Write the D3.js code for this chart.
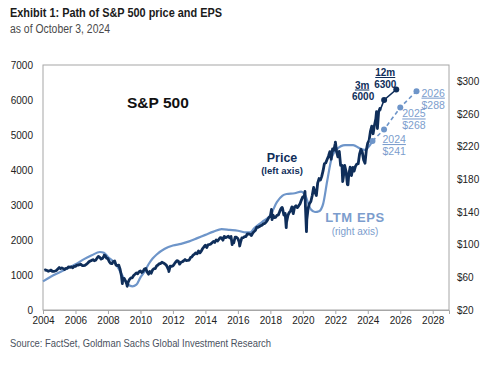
<!DOCTYPE html>
<html><head><meta charset="utf-8">
<script src="https://cdn.jsdelivr.net/npm/d3@7"></script>
<style>
html,body{margin:0;padding:0;background:#fff;}
svg{display:block;}
</style></head>
<body>
<svg id="c" width="500" height="368"></svg>
<script>
// ---- DATA ----
// S&P 500 month-end closes, Jan 2004 .. Sep 2024
const priceMonthly = [
 1131,1145,1126,1107,1121,1141,1102,1104,1115,1130,1174,1212,
 1181,1204,1181,1157,1192,1191,1234,1220,1229,1207,1249,1248,
 1280,1281,1295,1311,1270,1270,1277,1304,1336,1378,1401,1418,
 1438,1407,1421,1482,1531,1503,1455,1474,1527,1549,1481,1468,
 1379,1331,1323,1386,1400,1280,1267,1283,1166,969,896,903,
 826,735,798,873,919,919,987,1021,1057,1036,1096,1115,
 1074,1104,1169,1187,1089,1031,1102,1049,1141,1183,1181,1258,
 1286,1327,1326,1364,1345,1321,1292,1219,1131,1253,1247,1258,
 1312,1366,1408,1398,1310,1362,1379,1407,1441,1412,1416,1426,
 1498,1515,1569,1598,1631,1606,1686,1633,1682,1757,1806,1848,
 1783,1859,1872,1884,1924,1960,1931,2003,1972,2018,2068,2059,
 1995,2105,2068,2086,2107,2063,2104,1972,1920,2079,2080,2044,
 1940,1932,2060,2065,2097,2099,2174,2171,2168,2126,2199,2239,
 2279,2364,2363,2384,2412,2423,2470,2472,2519,2575,2648,2674,
 2824,2714,2641,2648,2705,2718,2816,2902,2914,2712,2760,2507,
 2704,2784,2834,2946,2752,2942,2980,2926,2977,3038,3141,3231,
 3226,2954,2585,2912,3044,3100,3271,3500,3363,3270,3622,3756,
 3714,3811,3973,4181,4204,4298,4395,4523,4308,4605,4567,4766,
 4516,4374,4530,4132,4132,3785,4130,3955,3586,3872,4080,3840,
 4077,3970,4109,4169,4180,4450,4589,4508,4288,4194,4568,4770,
 4846,5096,5254,5036,5278,5460,5522,5648,5762
];
const priceStart = "2004-01-31";
// intra-month highs / lows and latest value
const priceExtraDates  = ["2007-10-09","2008-11-20","2009-03-09","2010-07-02","2011-10-03","2015-08-25","2016-02-11","2018-01-26","2018-02-08","2018-09-20","2018-12-24","2020-02-19","2020-03-23","2022-01-03","2022-06-16","2022-10-12","2024-07-16","2024-08-05","2024-10-03"];
const priceExtraValues = [1565,752,677,1022,1099,1867,1829,2873,2581,2931,2351,3386,2237,4797,3667,3577,5667,5186,5700];

// S&P 500 LTM EPS (right axis), decimal year
const epsDates  = [2004.0,2004.5,2005.0,2005.5,2006.0,2006.5,2007.0,2007.5,2007.75,2008.0,2008.5,2008.75,2009.0,2009.25,2009.5,2009.75,2010.0,2010.25,2010.5,2010.75,2011.0,2011.5,2012.0,2012.5,2013.0,2013.5,2014.0,2014.5,2015.0,2015.5,2016.0,2016.5,2016.75,2017.0,2017.5,2018.0,2018.4,2018.75,2019.0,2019.5,2019.9,2020.1,2020.5,2020.75,2021.0,2021.25,2021.5,2021.8,2022.1,2022.6,2023.1,2023.5,2023.8,2024.1,2024.29];
const epsValues = [55,61,66,71,76,82,87,91,90,85,76,67,58,51,49,51,60,67,76,83,88,95,99,101,104,108,112,116,119,118,117,115,115,120,128,136,152,160,162,163,165,162,143,140,141,150,178,208,217,222,222,218,216,221,227];

// Forecasts
const priceFcDates  = ["2024-10-03","2025-01-03","2025-10-03"];
const priceFcValues = [5700,6000,6300];
const priceFcLabels = ["", "3m", "12m"];
const epsFcDates  = [2024.29,2025.0,2026.0,2027.0];
const epsFcValues = [227,241,268,288];
const epsFcLabels = ["", "2024", "2025", "2026"];

const leftTicks  = [0,1000,2000,3000,4000,5000,6000,7000];
const rightTicks = [20,60,100,140,180,220,260,300];
const yearTicks  = [2004,2006,2008,2010,2012,2014,2016,2018,2020,2022,2024,2026,2028];

// ---- CHART ----
const navy = "#0f2e5a", lblue = "#6e95c9", ltxt = "#7c9dcd";
const svg = d3.select("#c");
const L = 43, R = 449, T = 65, B = 310;
const x = d3.scaleTime().domain([new Date(2004,0,1), new Date(2029,0,1)]).range([L, R]);
const yL = d3.scaleLinear().domain([0,7000]).range([B, T]);
const yR = d3.scaleLinear().domain([20,320]).range([B, T]);
const parse = d3.timeParse("%Y-%m-%d");
const dec = v => { const y = Math.floor(v); const f = v - y;
  const s = new Date(y,0,1), e = new Date(y+1,0,1); return new Date(+s + f*(e-s)); };

const s0 = parse(priceStart);
let price = priceMonthly.map((v,i) => ({d: new Date(s0.getFullYear(), s0.getMonth()+i+1, 0), v}));
priceExtraDates.forEach((d,i) => price.push({d: parse(d), v: priceExtraValues[i]}));
price.sort((a,b) => a.d - b.d);
const eps = epsDates.map((d,i) => ({d: dec(d), v: epsValues[i]}));

const SF = "'Liberation Sans',Arial,sans-serif";
svg.append("text").attr("x",10).attr("y",17).text("Exhibit 1: Path of S&P 500 price and EPS")
  .attr("font-family",SF).attr("font-weight","bold").attr("font-size",13.5).attr("fill","#1b1b1b")
  .attr("textLength",212).attr("lengthAdjust","spacingAndGlyphs");
svg.append("text").attr("x",10).attr("y",33).text("as of October 3, 2024")
  .attr("font-family",SF).attr("font-size",12).attr("fill","#4a4a4a")
  .attr("textLength",100).attr("lengthAdjust","spacingAndGlyphs");
svg.append("text").attr("x",10).attr("y",347).text("Source: FactSet, Goldman Sachs Global Investment Research")
  .attr("font-family",SF).attr("font-size",11.5).attr("fill","#4a5160")
  .attr("textLength",261).attr("lengthAdjust","spacingAndGlyphs");

svg.append("rect").attr("x",L).attr("y",T).attr("width",R-L).attr("height",B-T)
  .attr("fill","none").attr("stroke","#a6a6a6").attr("stroke-width",1);

const axFont = g => g.selectAll("text").attr("font-family",SF)
  .attr("font-size",10).attr("fill","#222");

const gx = svg.append("g").attr("transform",`translate(0,${B})`)
  .call(d3.axisBottom(x).tickValues(yearTicks.map(y=>new Date(y,0,1))).tickFormat(d3.timeFormat("%Y")).tickSize(4).tickPadding(3));
gx.select(".domain").attr("stroke","#a6a6a6");
gx.selectAll(".tick line").attr("stroke","#a6a6a6");
axFont(gx);

const gl = svg.append("g").attr("transform",`translate(${L},0)`)
  .call(d3.axisLeft(yL).tickValues(leftTicks).tickFormat(d3.format("d")).tickSize(0).tickPadding(10));
gl.select(".domain").remove(); axFont(gl);

const gr = svg.append("g").attr("transform",`translate(${R},0)`)
  .call(d3.axisRight(yR).tickValues(rightTicks).tickFormat(d=>"$"+d).tickSize(0).tickPadding(8));
gr.select(".domain").remove(); axFont(gr);

svg.append("path").datum(eps).attr("fill","none").attr("stroke",lblue).attr("stroke-width",2.2)
  .attr("d", d3.line().x(d=>x(d.d)).y(d=>yR(d.v)).curve(d3.curveMonotoneX));

svg.append("path").datum(price).attr("fill","none").attr("stroke",navy).attr("stroke-width",2.8)
  .attr("stroke-linejoin","round")
  .attr("d", d3.line().x(d=>x(d.d)).y(d=>yL(d.v)));

const epsFc = epsFcDates.map((d,i)=>({d:dec(d), v:epsFcValues[i], l:epsFcLabels[i]}));
svg.append("path").datum(epsFc).attr("fill","none").attr("stroke",lblue).attr("stroke-width",1.6)
  .attr("stroke-dasharray","4,3").attr("d", d3.line().x(d=>x(d.d)).y(d=>yR(d.v)));
svg.selectAll(".ed").data(epsFc).join("circle").attr("cx",d=>x(d.d)).attr("cy",d=>yR(d.v)).attr("r",3).attr("fill",lblue);

const prFc = priceFcDates.map((d,i)=>({d:parse(d), v:priceFcValues[i], l:priceFcLabels[i]}));
svg.append("path").datum(prFc).attr("fill","none").attr("stroke",navy).attr("stroke-width",1.6)
  .attr("d", d3.line().x(d=>x(d.d)).y(d=>yL(d.v)));
svg.selectAll(".pd").data(prFc.slice(1)).join("circle").attr("cx",d=>x(d.d)).attr("cy",d=>yL(d.v)).attr("r",3).attr("fill",navy);

function t(xp, yp, s, size, col, opts={}) {
  const e = svg.append("text").attr("x",xp).attr("y",yp).text(s).attr("font-family",SF)
    .attr("font-size",size).attr("fill",col).attr("font-weight",opts.w||"bold")
    .attr("text-anchor",opts.a||"start");
  if (opts.u) e.style("text-decoration","underline");
  if (opts.ls) e.attr("letter-spacing",opts.ls);
  return e;
}
const p3 = prFc[1], p12 = prFc[2];
t(x(p3.d)-22, yL(p3.v)-11.5, p3.l, 10, navy, {a:"middle", u:true});
t(x(p3.d)-21, yL(p3.v)-0.5, String(p3.v), 10, navy, {a:"middle"});
t(x(p12.d)-11, yL(p12.v)-13.5, p12.l, 10, navy, {a:"middle", u:true});
t(x(p12.d)-11, yL(p12.v)-2, String(p12.v), 10, navy, {a:"middle"});
const epsLblOff = {"2024":[-1.5,13.5,25], "2025":[2,10,21.5], "2026":[5,5.5,17.5]};
epsFc.slice(1).forEach(d => {
  const xx = x(d.d), yy = yR(d.v), o = epsLblOff[d.l];
  t(xx + o[0], yy + o[1], d.l, 10.5, ltxt, {u:true, w:"normal"});
  t(xx + o[0], yy + o[2], "$"+d.v, 10.5, ltxt, {w:"normal"});
});

t(127, 108, "S&P 500", 15.5, "#111");
t(282, 162, "Price", 12.5, navy, {a:"middle"});
t(282, 174, "(left axis)", 9.5, navy, {a:"middle"});
t(355, 222, "LTM EPS", 13, ltxt, {a:"middle", ls:0.6});
t(355, 235, "(right axis)", 10, ltxt, {a:"middle", w:"normal"});
</script>
</body></html>
